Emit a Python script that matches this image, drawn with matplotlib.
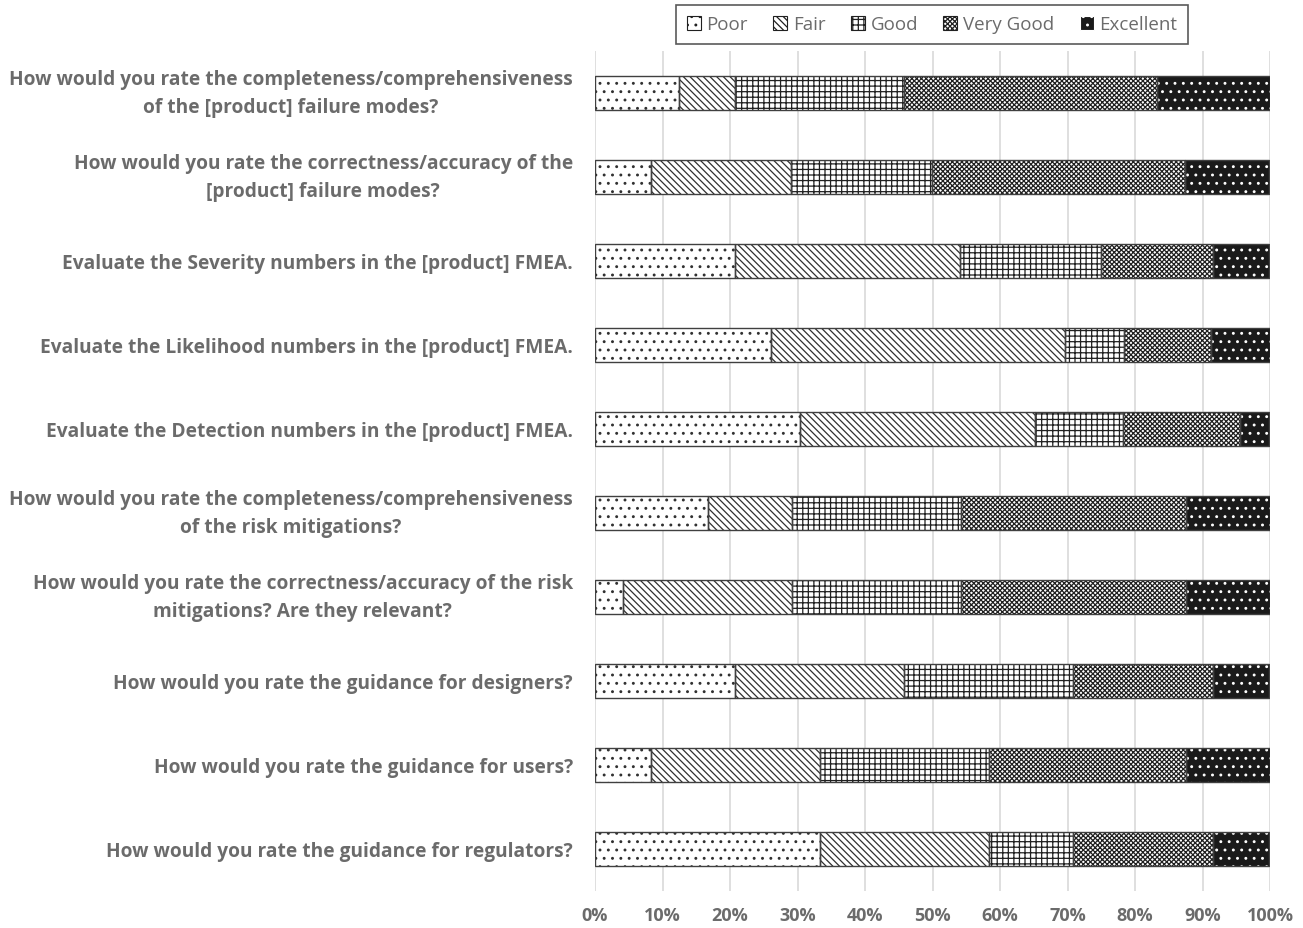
import matplotlib
matplotlib.use("Agg")
import matplotlib.pyplot as plt
from matplotlib.patches import Patch
import numpy as np

questions = [
    "How would you rate the completeness/comprehensiveness\nof the [product] failure modes?",
    "How would you rate the correctness/accuracy of the\n[product] failure modes?",
    "Evaluate the Severity numbers in the [product] FMEA.",
    "Evaluate the Likelihood numbers in the [product] FMEA.",
    "Evaluate the Detection numbers in the [product] FMEA.",
    "How would you rate the completeness/comprehensiveness\nof the risk mitigations?",
    "How would you rate the correctness/accuracy of the risk\nmitigations? Are they relevant?",
    "How would you rate the guidance for designers?",
    "How would you rate the guidance for users?",
    "How would you rate the guidance for regulators?",
]

ratings = ["Poor", "Fair", "Good", "Very Good", "Excellent"]

poor      = [12.5,  8.3, 20.8, 26.1, 30.4, 16.7,  4.2, 20.8,  8.3, 33.3]
fair      = [ 8.3, 20.8, 33.3, 43.5, 34.8, 12.5, 25.0, 25.0, 25.0, 25.0]
good      = [25.0, 20.8, 20.8,  8.7, 13.0, 25.0, 25.0, 25.0, 25.0, 12.5]
very_good = [37.5, 37.5, 16.7, 13.0, 17.4, 33.3, 33.3, 20.8, 29.2, 20.8]
excellent = [16.7, 12.5,  8.3,  8.7,  4.3, 12.5, 12.5,  8.3, 12.5,  8.3]

series = [poor, fair, good, very_good, excellent]
# (facecolor, hatch colour, hatch)
styles = [
    ("white", "#303030", ".."),
    ("white", "#303030", "\\\\\\\\\\"),
    ("white", "#202020", "+++"),
    ("white", "#202020", "xxxxxxx"),
    ("#1a1a1a", "white", ".."),
]

plt.rcParams["hatch.linewidth"] = 0.9
fig = plt.figure(figsize=(13.03, 9.29), dpi=100)
ax = fig.add_axes([595 / 1303, 1 - 892 / 929, 675 / 1303, 840 / 929])

y = np.arange(len(questions))
left = np.zeros(len(questions))
bar_h = 0.405
for vals, (fc, hc, hatch) in zip(series, styles):
    vals = np.array(vals)
    ax.barh(y, vals, left=left, height=bar_h, color=fc, edgecolor=hc,
            hatch=hatch, linewidth=0, zorder=2)
    ax.barh(y, vals, left=left, height=bar_h, facecolor="none",
            edgecolor="#404040", linewidth=1.0, zorder=3)
    left += vals

ax.set_xlim(0, 100)
ax.set_ylim(len(questions) - 0.5, -0.5)
ax.set_xticks(np.arange(0, 101, 10))
ax.set_xticklabels([f"{v}%" for v in range(0, 101, 10)])
ax.set_yticks(y)
ax.set_yticklabels(questions, ha="right", va="center", multialignment="center",
                   fontsize=13.8, fontweight="bold", color="#6b6b6b",
                   family="Open Sans", linespacing=1.52)
for lab in ax.get_yticklabels():
    if "\n" not in lab.get_text():
        lab.set_va("center_baseline")
for lab in ax.get_xticklabels():
    lab.set_fontsize(13)
    lab.set_fontweight("bold")
    lab.set_color("#6b6b6b")
    lab.set_family("Open Sans")
ax.tick_params(axis="both", length=0)
ax.tick_params(axis="x", pad=11)
ax.tick_params(axis="y", pad=16)
ax.grid(axis="x", color="#d9d9d9", linewidth=1.2, zorder=0)
ax.set_axisbelow(True)
for s in ax.spines.values():
    s.set_visible(False)

handles = []
for name, (fc, hc, hatch) in zip(ratings, styles):
    handles.append(Patch(facecolor=fc, edgecolor=hc if fc != "white" else "#202020",
                         hatch=hatch, label=name, linewidth=0.8))
leg = fig.legend(handles=handles, loc="center", bbox_to_anchor=(932 / 1303, 1 - 25.5 / 929),
                 ncol=5, frameon=True, fancybox=False, edgecolor="#303030",
                 prop={"family": "Open Sans", "size": 13.5},
                 handlelength=0.75, handleheight=0.75, handletextpad=0.3,
                 columnspacing=1.35, borderpad=0.55)
leg.get_frame().set_linewidth(1.2)
for t in leg.get_texts():
    t.set_color("#6b6b6b")

fig.savefig("out.png", dpi=100)
